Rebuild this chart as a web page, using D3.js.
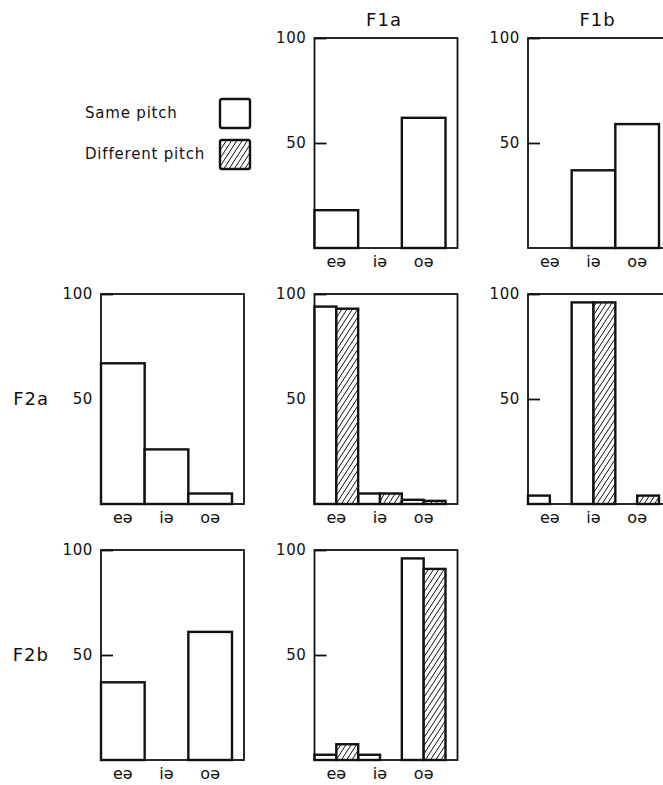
<!DOCTYPE html>
<html>
<head>
<meta charset="utf-8">
<script src="https://cdn.jsdelivr.net/npm/d3@7"></script>
<style>
  body { margin: 0; background: #fff; }
  text { font-family: "DejaVu Sans", sans-serif; fill: #111; }
</style>
</head>
<body>
<div class="chart"></div>
<script>
// categories + labels
var categories = ["eə", "iə", "oə"];
var yTicks = [50, 100];
var colTitles = ["F1a", "F1b"];
var rowTitles = ["F2a", "F2b"];
var legendLabels = ["Same pitch", "Different pitch"];

// single formant panels (same pitch only)
var f1aSame = [18, 0, 62];
var f1bSame = [0, 37, 59];
var f2aSame = [67, 26, 5];
var f2bSame = [37, 0, 61];

// combined panels, same vs different pitch
var f1aF2aSame = [94, 5, 2],   f1aF2aDiff = [93, 5, 1.5];
var f1bF2aSame = [4, 96, 0],   f1bF2aDiff = [0, 96, 4];
var f1aF2bSame = [2.5, 2.5, 96], f1aF2bDiff = [7.5, 0, 91];

var width = 663,
    height = 785,
    panelW = 143,
    panelH = 210,
    left0 = 101,
    colStep = 213.5,
    top0 = 38,
    rowStep = 256;

var panels = [
  {row: 0, col: 1, series: [f1aSame]},
  {row: 0, col: 2, series: [f1bSame]},
  {row: 1, col: 0, series: [f2aSame]},
  {row: 1, col: 1, series: [f1aF2aSame, f1aF2aDiff]},
  {row: 1, col: 2, series: [f1bF2aSame, f1bF2aDiff]},
  {row: 2, col: 0, series: [f2bSame]},
  {row: 2, col: 1, series: [f1aF2bSame, f1aF2bDiff]}
];

var svg = d3.select(".chart").append("svg")
    .attr("width", width)
    .attr("height", height);

// hatch for different pitch (steep "/" lines)
svg.append("defs").append("pattern")
    .attr("id", "hatch")
    .attr("patternUnits", "userSpaceOnUse")
    .attr("width", 4.4)
    .attr("height", 4.4)
    .attr("patternTransform", "rotate(33)")
  .call(function(p) {
    p.append("rect").attr("width", 4.4).attr("height", 4.4).attr("fill", "#fff");
    p.append("line").attr("x1", 0).attr("y1", 0).attr("x2", 0).attr("y2", 4.4)
      .attr("stroke", "#111").attr("stroke-width", 1.7);
  });

var y = d3.scaleLinear().domain([0, 100]).range([panelH, 0]);
var x = d3.scaleBand().domain(categories).range([0, 131]);
var fills = ["#fff", "url(#hatch)"];

panels.forEach(function(p) {
  var g = svg.append("g")
      .attr("transform", "translate(" + (left0 + p.col * colStep) + "," + (top0 + p.row * rowStep) + ")");

  g.append("rect")
      .attr("width", panelW)
      .attr("height", panelH)
      .attr("fill", "none")
      .attr("stroke", "#111")
      .attr("stroke-width", 1.8);

  var ax = g.append("g")
      .call(d3.axisLeft(y).tickValues(yTicks).tickSizeInner(-12).tickSizeOuter(0).tickPadding(8));
  ax.select(".domain").remove();
  ax.attr("font-family", null).attr("font-size", 15).style("color", "#111");
  ax.selectAll("text").attr("letter-spacing", 0.6);
  ax.selectAll("line").attr("stroke-width", 1.8);

  var sub = d3.scaleBand().domain(d3.range(p.series.length)).range([0, x.bandwidth()]);

  p.series.forEach(function(vals, s) {
    var data = categories.map(function(c, i) { return {cat: c, v: vals[i]}; })
        .filter(function(d) { return d.v > 0; });
    g.selectAll(".bar" + s)
        .data(data)
      .enter().append("rect")
        .attr("class", "bar" + s)
        .attr("x", function(d) { return x(d.cat) + sub(s); })
        .attr("y", function(d) { return y(d.v); })
        .attr("width", sub.bandwidth())
        .attr("height", function(d) { return panelH - y(d.v); })
        .attr("fill", fills[s])
        .attr("stroke", "#111")
        .attr("stroke-width", 2.4);
  });

  g.selectAll(".cat")
      .data(categories)
    .enter().append("text")
      .attr("class", "cat")
      .attr("x", function(d) { return x(d) + x.bandwidth() / 2; })
      .attr("y", panelH + 19)
      .attr("text-anchor", "middle")
      .attr("font-size", 16)
      .text(function(d) { return d; });
});

// column titles
svg.selectAll(".coltitle")
    .data(colTitles)
  .enter().append("text")
    .attr("x", function(d, i) { return left0 + (i + 1) * colStep + panelW / 2 - 2; })
    .attr("y", 26)
    .attr("text-anchor", "middle")
    .attr("font-size", 18)
    .attr("letter-spacing", 1)
    .text(function(d) { return d; });

// row titles
svg.selectAll(".rowtitle")
    .data(rowTitles)
  .enter().append("text")
    .attr("x", 49)
    .attr("y", function(d, i) { return top0 + (i + 1) * rowStep + y(50) + 6; })
    .attr("text-anchor", "end")
    .attr("font-size", 18)
    .attr("letter-spacing", 1)
    .text(function(d) { return d; });

// legend
var legend = svg.append("g").attr("transform", "translate(85,99)");
legendLabels.forEach(function(lab, i) {
  legend.append("text")
      .attr("x", 0)
      .attr("y", 19 + i * 41)
      .attr("font-size", 15)
      .attr("letter-spacing", 0.8)
      .text(lab);
  legend.append("rect")
      .attr("x", 135)
      .attr("y", i * 41)
      .attr("width", 30)
      .attr("height", 29)
      .attr("rx", 2)
      .attr("fill", fills[i])
      .attr("stroke", "#111")
      .attr("stroke-width", 2.4);
});
</script>
</body>
</html>
